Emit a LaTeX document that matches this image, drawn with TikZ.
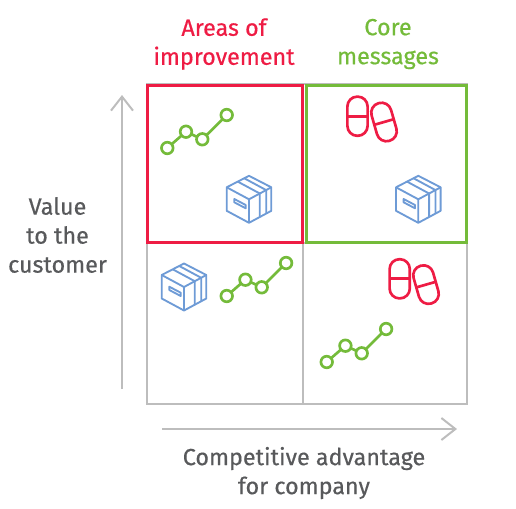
\documentclass[tikz,border=0pt]{standalone}
\usepackage{fontspec}
\setmainfont{Fira Sans}[RawFeature={embolden=0.5}]
\usetikzlibrary{arrows.meta}
\definecolor{cred}{HTML}{EE1C44}
\definecolor{cgreen}{HTML}{74BB3A}
\definecolor{cblue}{HTML}{6E9BD6}
\definecolor{cgray}{HTML}{BDBDBD}
\definecolor{ctext}{HTML}{58595B}
\tikzset{
  label text/.style={font=\fontsize{17.5}{21.75}\selectfont,align=center,inner sep=0pt},
  grid line/.style={draw=cgray,line width=1.5pt},
  axis line/.style={draw=cgray,line width=1.5pt,-{Straight Barb[length=10.5pt,width=16.5pt,line width=1.5pt]}},
  pics/lineicon/.style={code={
    \coordinate (p1) at (0,0);
    \coordinate (p2) at (18.7,-16.3);
    \coordinate (p3) at (35,-8.7);
    \coordinate (p4) at (59.4,-33);
    \draw[cgreen,line width=2pt] (p1)--(p2)--(p3)--(p4);
    \foreach \p in {p1,p2,p3,p4}{\draw[cgreen,line width=2pt,fill=white] (\p) circle[radius=5.8];}
  }},
  pics/boxicon/.style={code={
    \begin{scope}[cblue,line width=1.4pt,line join=round]
    \draw (0,-23.5)--(-22.3,-12)--(-22.3,11.5)--(0,23.5)--(22.3,11.5)--(22.3,-12)--cycle;
    \draw (-22.3,-12)--(0,0)--(22.3,-12) (0,0)--(0,23.5);
    \draw (-11.3,-17.7)--(10.8,-5.8)--(10.8,17.7);
    \draw (-4.7,-21)--(17.2,-9.2)--(17.2,14.5);
    \draw (-14.7,-0.3)--(-3.3,5.7)--(-3.3,9)--(-14.7,3)--cycle;
    \end{scope}
  }},
  pics/capsule/.style={code={
    \draw[cred,line width=2pt,rounded corners=7.4pt] (-10.1,-19.6) rectangle (10.1,19.6);
    \draw[cred,line width=2pt] (-10.1,0)--(10.1,0);
  }},
}
\begin{document}
\begin{tikzpicture}[x=0.75pt,y=-0.75pt]
\useasboundingbox (0,0) rectangle (516,508);
% grid
\draw[grid line] (147,84) rectangle (467,404);
\draw[grid line] (303,84)--(303,404);
\draw[grid line] (147,243)--(467,243);
\draw[cred,line width=2.25pt] (147,85) rectangle (302,242);
\draw[cgreen,line width=2.25pt] (306,85) rectangle (466,242);
% axes
\coordinate (ya) at (122,389);
\coordinate (yb) at (122,95);
\coordinate (xa) at (162,429);
\coordinate (xb) at (457,429);
\draw[axis line] (ya)--(yb);
\draw[axis line] (xa)--(xb);
% labels
\node[label text,text=cred,anchor=center] (t1) at (224,44) {Areas of\\improvement};
\node[label text,text=cgreen,anchor=center] (t2) at (388,44) {Core\\messages};
\node[label text,text=ctext,anchor=center] (t3) at (57.5,235) {Value\\to the\\customer};
\node[label text,text=ctext,anchor=center] (t4) at (304,473) {Competitive advantage\\for company};
% icons
\pic at (167.3,148) {lineicon};
\pic at (226.7,296) {lineicon};
\pic at (326.7,362) {lineicon};
\pic at (249,199.3) {boxicon};
\pic at (418.3,199.3) {boxicon};
\pic at (184,287) {boxicon};
\pic at (357.5,116.2) {capsule};
\pic[rotate=16] at (384,122) {capsule};
\pic at (399.7,278.8) {capsule};
\pic[rotate=16] at (426,284.6) {capsule};
\end{tikzpicture}
\end{document}
